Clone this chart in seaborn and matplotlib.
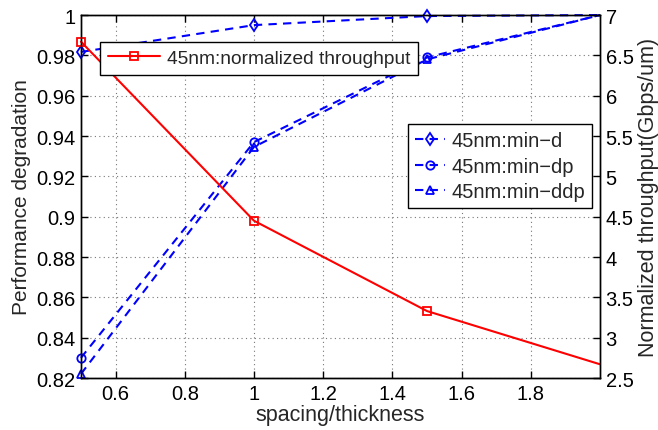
import matplotlib
matplotlib.use("Agg")
import matplotlib.pyplot as plt
import seaborn as sns
import pandas as pd
from matplotlib.lines import Line2D

spacing = [0.5, 1.0, 1.5, 2.0]
min_d = [0.9817, 0.9950, 0.9995, 1.0]
min_dp = [0.8300, 0.9370, 0.9790, 1.0]
min_ddp = [0.8220, 0.9346, 0.9780, 1.0]
throughput = [6.67, 4.45, 3.33, 2.67]

x_ticks = [0.6, 0.8, 1.0, 1.2, 1.4, 1.6, 1.8]
x_labels = ["0.6", "0.8", "1", "1.2", "1.4", "1.6", "1.8"]
left_ticks = [0.82, 0.84, 0.86, 0.88, 0.9, 0.92, 0.94, 0.96, 0.98, 1.0]
left_labels = ["0.82", "0.84", "0.86", "0.88", "0.9", "0.92", "0.94", "0.96", "0.98", "1"]
right_ticks = [2.5, 3, 3.5, 4, 4.5, 5, 5.5, 6, 6.5, 7]
right_labels = ["2.5", "3", "3.5", "4", "4.5", "5", "5.5", "6", "6.5", "7"]

sns.set_theme(style="white")
plt.rcParams['font.family'] = ['Liberation Sans', 'DejaVu Sans']

fig = plt.figure(figsize=(6.58, 4.31), dpi=100)
ax = fig.add_axes([0.123, 0.1206, 0.789, 0.8422])
ax2 = ax.twinx()

df = pd.DataFrame({"x": spacing, "d": min_d, "dp": min_dp, "ddp": min_ddp, "t": throughput})
blue = "#0000ff"
red = "#ff0000"

series = [
    (ax, "d", blue, (0, (4, 3)), "d", "45nm:min\u2212d"),
    (ax, "dp", blue, (0, (4, 3)), "o", "45nm:min\u2212dp"),
    (ax, "ddp", blue, (0, (4, 3)), "^", "45nm:min\u2212ddp"),
    (ax2, "t", red, "-", "s", "45nm:normalized throughput"),
]
handles = []
for a, col, c, ls, m, lab in series:
    n_before = len(a.get_lines())
    sns.lineplot(data=df, x="x", y=col, ax=a, color=c, lw=1.5, legend=False)
    line = a.get_lines()[n_before]
    line.set_linestyle(ls)
    line.set_marker(m)
    line.set_markevery([0, 1, 2])
    line.set_markerfacecolor("none")
    line.set_markeredgecolor(c)
    line.set_markersize(6)
    line.set_markeredgewidth(1.3)
    line.set_clip_on(False)
    handles.append(Line2D([], [], color=c, lw=1.5, linestyle=ls, marker=m,
                          markerfacecolor="none", markeredgecolor=c, markersize=6,
                          markeredgewidth=1.3, label=lab))

ax.set_xlim(0.5, 2.0)
ax.set_ylim(0.82, 1.0)
ax2.set_ylim(2.5, 7.0)
ax.set_xticks(x_ticks)
ax.set_xticklabels(x_labels)
ax.set_yticks(left_ticks)
ax.set_yticklabels(left_labels)
ax2.set_yticks(right_ticks)
ax2.set_yticklabels(right_labels)

ax.grid(True, linestyle=(0, (1, 3)), color="#777777", lw=0.8)
for a in (ax, ax2):
    a.tick_params(direction="in", length=5, width=1, labelsize=14.5, colors="black", pad=4)
    for s in a.spines.values():
        s.set_color("black")
        s.set_linewidth(1.0)
ax.tick_params(axis="x", top=True, bottom=True)

ax.set_xlabel("spacing/thickness", fontsize=15.5, labelpad=1)
ax.set_ylabel("Performance degradation", fontsize=15, labelpad=4)
ax2.set_ylabel("Normalized throughput(Gbps/um)", fontsize=15.5, labelpad=3)

ax2.set_zorder(ax.get_zorder() + 1)
ax2.patch.set_visible(False)

leg_blue = ax2.legend(handles=handles[:3], loc="upper left", bbox_to_anchor=(0.63, 0.70),
                      fontsize=14.5, frameon=True, fancybox=False, edgecolor="black",
                      framealpha=1, handlelength=1.5, handletextpad=0.3, borderpad=0.35,
                      labelspacing=0.33, borderaxespad=0)
leg_blue.get_frame().set_linewidth(1.0)
ax2.add_artist(leg_blue)
leg_red = ax2.legend(handles=handles[3:], loc="upper left", bbox_to_anchor=(0.037, 0.926),
                     fontsize=13.8, frameon=True, fancybox=False, edgecolor="black",
                     framealpha=1, handlelength=2.7, handletextpad=0.4, borderpad=0.4,
                     borderaxespad=0)
leg_red.get_frame().set_linewidth(1.0)

fig.savefig("out.png", dpi=100)
